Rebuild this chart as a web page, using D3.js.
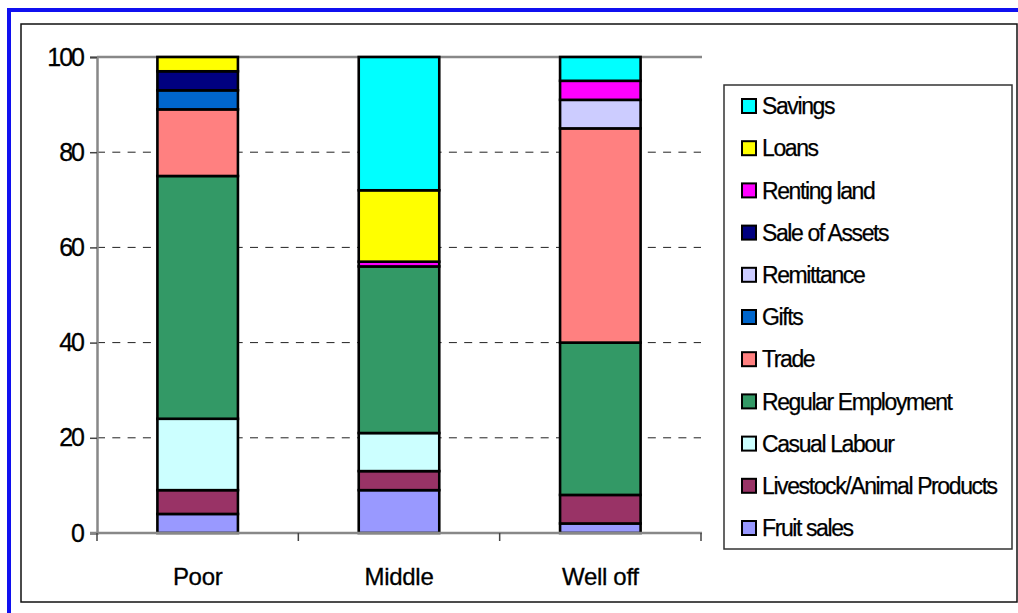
<!DOCTYPE html>
<html>
<head>
<meta charset="utf-8">
<script src="https://cdn.jsdelivr.net/npm/d3@7"></script>
<style>
  html, body { margin: 0; padding: 0; background: #fff; }
  svg { display: block; font-family: "Liberation Sans", Arial, sans-serif; }
</style>
</head>
<body>
<svg id="chart" width="1018" height="613"></svg>
<script>
// Income sources by wealth group (% of total), stacked bottom to top
const categories = ["Poor", "Middle", "Well off"];
const sources = ["Fruit sales", "Livestock/Animal Products", "Casual Labour", "Regular Employment",
                 "Trade", "Gifts", "Remittance", "Sale of Assets", "Renting land", "Loans", "Savings"];
const fruitSales   = [4, 9, 2];
const livestock    = [5, 4, 6];
const casualLabour = [15, 8, 0];
const regularEmp   = [51, 35, 32];
const trade        = [14, 0, 45];
const gifts        = [4, 0, 0];
const remittance   = [0, 0, 6];
const saleOfAssets = [4, 0, 0];
const rentingLand  = [0, 1, 4];
const loans        = [3, 15, 0];
const savings      = [0, 28, 5];
const yTicks = [0, 20, 40, 60, 80, 100];
const colors = ["#9999FF", "#993366", "#CCFFFF", "#339966", "#FF8080", "#0066CC",
                "#CCCCFF", "#000080", "#FF00FF", "#FFFF00", "#00FFFF"];

const seriesValues = [fruitSales, livestock, casualLabour, regularEmp, trade, gifts,
                      remittance, saleOfAssets, rentingLand, loans, savings];
const rows = categories.map((c, i) => {
  const r = { category: c };
  sources.forEach((s, k) => { r[s] = seriesValues[k][i]; });
  return r;
});

const svg = d3.select("#chart");
const font = '"Liberation Sans", Arial, sans-serif';

// outer page frame
svg.append("rect").attr("x", 7).attr("y", 8).attr("width", 1011).attr("height", 4).attr("fill", "#1010F0");
svg.append("rect").attr("x", 7).attr("y", 8).attr("width", 4).attr("height", 605).attr("fill", "#1010F0");
svg.append("rect").attr("x", 21).attr("y", 24).attr("width", 996).attr("height", 578)
  .attr("fill", "#fff").attr("stroke", "#111").attr("stroke-width", 1.5);

const plot = { left: 97, right: 701, top: 57, bottom: 533 };

const x = d3.scaleBand().domain(categories).range([plot.left, plot.right])
  .paddingInner(0.6).paddingOuter(0.3);
const y = d3.scaleLinear().domain([0, 100]).range([plot.bottom, plot.top]);

// dashed gridlines
svg.append("g").selectAll("line").data(yTicks.filter(t => t > 0 && t < 100)).join("line")
  .attr("x1", plot.left).attr("x2", plot.right)
  .attr("y1", d => y(d)).attr("y2", d => y(d))
  .attr("stroke", "#222").attr("stroke-width", 1).attr("stroke-dasharray", "8,7.3");

// plot-area top edge
svg.append("line").attr("x1", plot.left).attr("x2", plot.right + 1)
  .attr("y1", plot.top).attr("y2", plot.top).attr("stroke", "#888").attr("stroke-width", 2.5);

// stacked bars
const stacked = d3.stack().keys(sources)(rows);
svg.append("g").selectAll("g").data(stacked).join("g")
  .attr("fill", (d, i) => colors[i])
  .selectAll("rect").data(d => d.filter(s => s[1] - s[0] > 0)).join("rect")
  .attr("x", d => x(d.data.category))
  .attr("width", x.bandwidth())
  .attr("y", d => y(d[1]))
  .attr("height", d => y(d[0]) - y(d[1]))
  .attr("stroke", "#000").attr("stroke-width", 2.6);

// y axis
const yAxis = svg.append("g").attr("transform", `translate(${plot.left},0)`)
  .call(d3.axisLeft(y).tickValues(yTicks).tickSize(7).tickPadding(0).tickFormat(d3.format("d")));
yAxis.select(".domain").attr("stroke", "#888").attr("stroke-width", 2.5);
yAxis.selectAll(".tick line").attr("stroke", "#444").attr("stroke-width", 1.5);
yAxis.selectAll(".tick text")
  .attr("x", -14).attr("dy", "0.32em")
  .attr("fill", "#000").attr("stroke", "#000").attr("stroke-width", 0.3)
  .style("font-family", font).style("font-size", "25px")
  .style("letter-spacing", "-2px");

// x axis
const xAxis = svg.append("g").attr("transform", `translate(0,${plot.bottom})`)
  .call(d3.axisBottom(x).tickSize(0).tickPadding(0));
xAxis.select(".domain").attr("stroke", "#888").attr("stroke-width", 2.5)
  .attr("d", `M${plot.left - 7},0H${plot.right + 1}`);
xAxis.selectAll(".tick text")
  .attr("y", 52).attr("dy", 0)
  .attr("fill", "#000").attr("stroke", "#000").attr("stroke-width", 0.3)
  .style("font-family", font).style("font-size", "24px").style("letter-spacing", "-0.3px");
const boundaries = d3.range(categories.length + 1).map(i => plot.left + i * x.step());
xAxis.append("g").selectAll("line").data(boundaries).join("line")
  .attr("x1", d => d).attr("x2", d => d).attr("y1", 0).attr("y2", 8)
  .attr("stroke", "#444").attr("stroke-width", 1.5);

// legend
const legend = svg.append("g");
legend.append("rect").attr("x", 724).attr("y", 85).attr("width", 288).attr("height", 464)
  .attr("fill", "#fff").attr("stroke", "#333").attr("stroke-width", 1.5);
const legendOrder = sources.map((s, i) => ({ name: s, color: colors[i] })).reverse();
const items = legend.selectAll("g.item").data(legendOrder).join("g")
  .attr("class", "item")
  .attr("transform", (d, i) => `translate(742,${106 + i * 42.2})`);
items.append("rect").attr("x", 0).attr("y", -7).attr("width", 14).attr("height", 14)
  .attr("fill", d => d.color).attr("stroke", "#000").attr("stroke-width", 2);
items.append("text").attr("x", 20).attr("y", 0).attr("dy", "0.36em")
  .attr("fill", "#000").attr("stroke", "#000").attr("stroke-width", 0.25)
  .style("font-family", font).style("font-size", "23px").style("letter-spacing", "-1.4px")
  .text(d => d.name);
</script>
</body>
</html>
